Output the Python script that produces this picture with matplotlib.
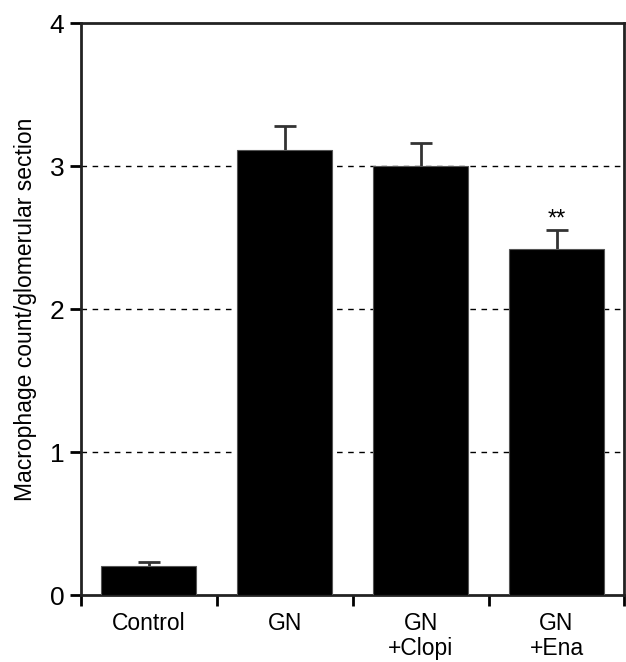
#!/usr/bin/env python3

import matplotlib
matplotlib.use('Agg')
import matplotlib.pyplot as plt
import numpy as np

groups = ['Control', 'GN', 'GN\n+Clopi', 'GN\n+Ena']
means = [0.20, 3.11, 3.00, 2.42]
sem = [0.03, 0.17, 0.16, 0.13]
marks = ['', '', '', '**']

plt.rcParams['font.family'] = ['Liberation Sans', 'DejaVu Sans']

fig = plt.figure(figsize=(6.26, 6.62), dpi=100)
ax = fig.add_axes([0.1294, 0.1012, 0.8682, 0.8640])

x = np.arange(len(groups))
ax.bar(x, means, width=0.70, color='black', edgecolor='#555555', linewidth=0.8, zorder=3)
_, caps, _ = ax.errorbar(x, means, yerr=[np.zeros(len(sem)), sem], fmt='none', ecolor='#333333',
                         elinewidth=2, capsize=8, capthick=2, zorder=2)
caps[0].remove()  # only the upper cap is shown
for xi, m, s, t in zip(x, means, sem, marks):
    if t:
        ax.text(xi, m + s + 0.0, t, ha='center', va='bottom', fontsize=17)

# dashed reference lines behind bars
for yv in [1, 2, 3]:
    ax.axhline(yv, color='black', linestyle=(0, (4, 4)), linewidth=1, zorder=1)

ax.set_xlim(-0.5, 3.5)
ax.set_ylim(0, 4)
ax.set_yticks([0, 1, 2, 3, 4])
ax.set_xticks(np.arange(-0.5, 4.0, 1.0))
ax.set_xticklabels([])
ax.set_xticks(x, minor=True)
ax.set_xticklabels(groups, minor=True, fontsize=16.5, linespacing=1.15)
ax.tick_params(axis='x', which='minor', length=0, pad=12)
ax.tick_params(axis='x', which='major', length=8, width=2, direction='out')
ax.tick_params(axis='y', length=8, width=2, direction='out', labelsize=19, pad=4)

for sp in ax.spines.values():
    sp.set_linewidth(2)
    sp.set_color('#222222')

ax.set_ylabel('Macrophage count/glomerular section', fontsize=16.5, labelpad=9)

fig.savefig('out.png', dpi=100)
